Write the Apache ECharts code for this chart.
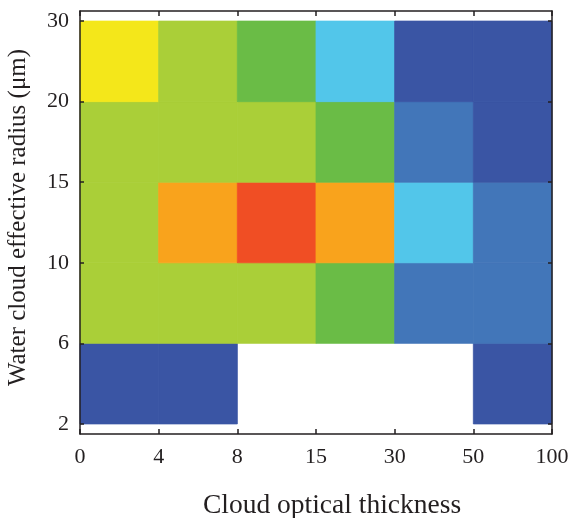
<!DOCTYPE html>
<html>
<head>
<meta charset="utf-8">
<script src="https://cdn.jsdelivr.net/npm/echarts@6/dist/echarts.min.js"></script>
<style>
html,body{margin:0;padding:0;background:#fff;}
#chart{width:571px;height:518px;}
</style>
</head>
<body>
<div id="chart"></div>
<script>
// Bin edges (tick labels)
const xTickLabels = ['0', '4', '8', '15', '30', '50', '100'];   // cloud optical thickness
const yTickLabels = ['2', '6', '10', '15', '20', '30'];         // effective radius (μm)

// Category level for each cell, rows from bottom (2-6) to top (20-30); null = no data
// levels: 1 dark blue, 2 blue, 3 cyan, 4 green, 5 lime, 6 yellow, 7 orange, 8 red
const row_2_6   = [1, 1, null, null, null, 1];
const row_6_10  = [5, 5, 5, 4, 2, 2];
const row_10_15 = [5, 7, 8, 7, 3, 2];
const row_15_20 = [5, 5, 5, 4, 2, 1];
const row_20_30 = [6, 5, 4, 3, 1, 1];
const rows = [row_2_6, row_6_10, row_10_15, row_15_20, row_20_30];

const levelColors = ['#3A55A4', '#4276B9', '#52C6EA', '#6ABC46', '#AACF38', '#F4E71A', '#F9A31C', '#F04E24'];

const cells = [];
rows.forEach((row, yi) => row.forEach((v, xi) => { if (v !== null) cells.push([xi, yi, v]); }));

const font = "'Liberation Serif', 'Times New Roman', serif";
const txt = '#231F20';
const lineStyle = { color: '#231F20', width: 1.5 };
const yTickVals = yTickLabels.map((_, i) => i);

const chart = echarts.init(document.getElementById('chart'));
chart.setOption({
  animation: false,
  grid: { left: 80, right: 19, top: 11, bottom: 84, outerBoundsMode: 'none', containLabel: false },
  visualMap: {
    type: 'piecewise', show: false, dimension: 2, seriesIndex: 0,
    pieces: levelColors.map((c, i) => ({ value: i + 1, color: c }))
  },
  xAxis: [{
    type: 'value', min: 0, max: xTickLabels.length - 1, interval: 1, z: 10,
    name: 'Cloud optical thickness', nameLocation: 'middle', nameGap: 58,
    nameTextStyle: { fontFamily: font, fontSize: 27.5, color: txt, padding: [0, 0, 0, 32] },
    axisLine: { show: true, onZero: false, lineStyle },
    axisTick: { show: true, inside: true, length: 5, lineStyle },
    axisLabel: { fontFamily: font, fontSize: 22, color: txt, margin: 12,
      formatter: v => xTickLabels[Math.round(v)] },
    splitLine: { show: false }
  }, {
    type: 'value', position: 'top', min: 0, max: xTickLabels.length - 1, interval: 1, z: 10,
    axisLine: { show: true, onZero: false, lineStyle },
    axisTick: { show: true, inside: true, length: 5, lineStyle },
    axisLabel: { show: false }, splitLine: { show: false }
  }],
  yAxis: [{
    type: 'value', min: -0.125, max: yTickLabels.length - 1 + 0.125, z: 10,
    name: 'Water cloud effective radius (μm)', nameLocation: 'middle', nameGap: 49,
    nameTextStyle: { fontFamily: font, fontSize: 25, color: txt, padding: [0, 0, 0, 10] },
    axisLine: { show: true, onZero: false, lineStyle },
    axisTick: { show: true, inside: true, length: 4, lineStyle, customValues: yTickVals },
    axisLabel: { fontFamily: font, fontSize: 22, color: txt, margin: 11,
      customValues: yTickVals,
      formatter: v => yTickLabels[Math.round(v)] },
    splitLine: { show: false }
  }, {
    type: 'value', position: 'right', min: -0.125, max: yTickLabels.length - 1 + 0.125, z: 10,
    axisLine: { show: true, onZero: false, lineStyle },
    axisTick: { show: true, inside: true, length: 4, lineStyle, customValues: yTickVals },
    axisLabel: { show: false }, splitLine: { show: false }
  }],
  series: [{
    type: 'custom',
    xAxisIndex: 0, yAxisIndex: 0,
    data: cells,
    encode: { x: 0, y: 1 },
    z: 1,
    renderItem: function (params, api) {
      const x = api.value(0), y = api.value(1);
      const p0 = api.coord([x, y + 1]);
      const p1 = api.coord([x + 1, y]);
      const c = api.visual('color');
      return {
        type: 'rect',
        shape: { x: p0[0], y: p0[1], width: p1[0] - p0[0], height: p1[1] - p0[1] },
        style: { fill: c, stroke: c, lineWidth: 0.8 }
      };
    }
  }]
});
</script>
</body>
</html>
